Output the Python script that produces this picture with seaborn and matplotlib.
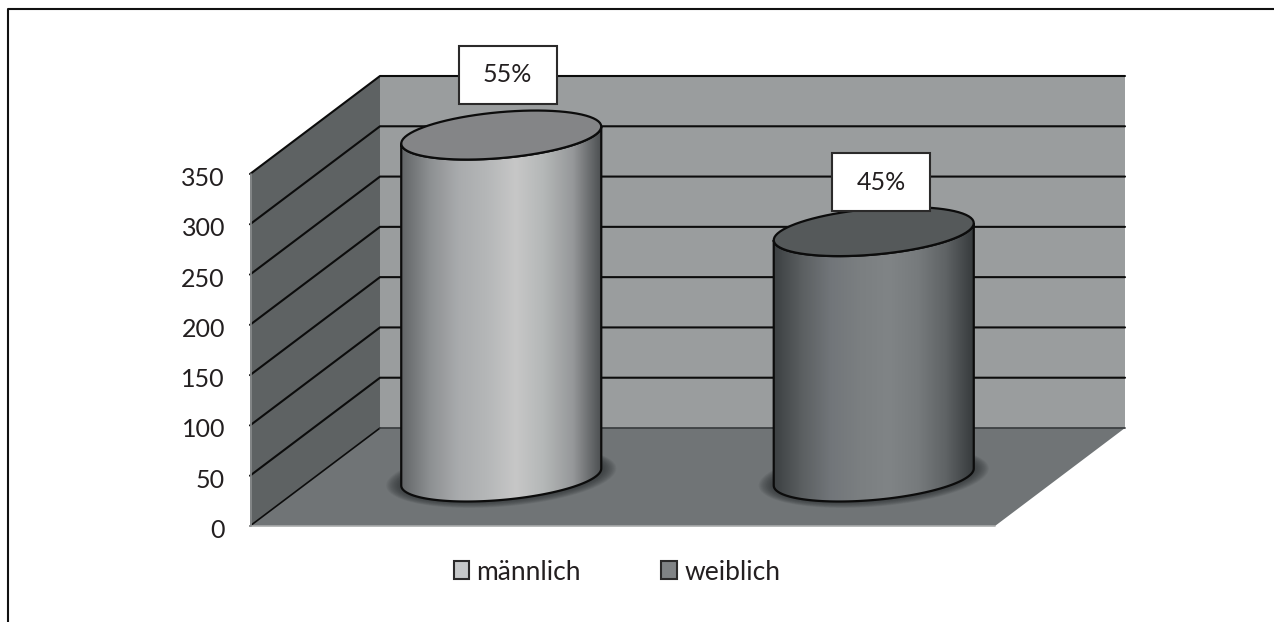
import numpy as np
import seaborn as sns
import matplotlib.pyplot as plt
from matplotlib.colors import LinearSegmentedColormap
from matplotlib.lines import Line2D
from matplotlib.patches import Patch, Polygon, Rectangle
from matplotlib.transforms import Affine2D, IdentityTransform

categories = ['männlich', 'weiblich']
values = [340, 244]
shares = ['55%', '45%']
y_ticks = [0, 50, 100, 150, 200, 250, 300, 350]

legend_colors = ['#c6c8c9', '#808385']
top_colors = ['#848587', '#55595a']
body_stops = [
    ['#626567', '#8d9092', '#a9abad', '#b5b7b8', '#c7c7c7', '#b4b7b7', '#96989a', '#4b4e50'],
    ['#3c4042', '#5c6062', '#72767a', '#7b7f81', '#808486', '#777b7d', '#5f6365', '#35393b'],
]

W, H = 1274, 622
DEPTH_X, DEPTH_Y = 130, 98  # oblique depth of the fake 3d box, pixels
TILT = 8.5 / 100
MINOR = 23
BOX_W, BOX_H = 98, 58
box_shift = [(6.5, 60.5), (7.5, 49.5)]
TEXT = '#231f20'

sns.set_theme(style='white')
plt.rcParams['font.family'] = ['Lato', 'DejaVu Sans']

fig = plt.figure(figsize=(W / 100, H / 100), dpi=100, facecolor='white')
ax = fig.add_axes([250 / W, (H - 526) / H, 745 / W, 352 / H])

sns.barplot(x=categories, y=values, hue=categories, palette=legend_colors, legend=False,
            width=0.537, saturation=1, ax=ax, zorder=4)
bars = list(ax.patches)
ax.set_xlim(-0.5, 1.5)
ax.set_ylim(0, 350)
ax.set_autoscale_on(False)
ax.patch.set_visible(False)
sns.despine(ax=ax, left=True, bottom=True)
ax.set_xlabel('')
ax.set_xticks([])
ax.set_xlim(-0.5, 1.5)
ax.set_yticks(y_ticks)
ax.tick_params(axis='y', length=0, pad=18, labelsize=18, labelcolor=TEXT)
for label in ax.get_yticklabels():
    label.set_transform(label.get_transform() + Affine2D().translate(0, -2.5))


def to_px(x, y, depth=0.0):
    px, py = ax.transData.transform((x, y))
    return px + DEPTH_X * depth, py + DEPTH_Y * depth


def add_poly(points, zorder, **kw):
    poly = Polygon(points, closed=True, transform=IdentityTransform(), clip_on=False, zorder=zorder, **kw)
    ax.add_patch(poly)
    return poly


def px_line(xs, ys, zorder, color='#0c0c0c', lw=1.5):
    ax.add_line(Line2D(xs, ys, transform=IdentityTransform(), color=color, lw=lw, clip_on=False, zorder=zorder))


def arc(cx, cy, a, t0, t1):
    t = np.linspace(t0, t1, 80)
    return np.column_stack([cx + a * np.cos(t), cy + MINOR * np.sin(t) + TILT * a * np.cos(t)])


# box: back wall, left wall, floor
add_poly([to_px(-0.5, 0, 1), to_px(1.5, 0, 1), to_px(1.5, 350, 1), to_px(-0.5, 350, 1)], 1, fc='#9a9d9e', ec='none')
add_poly([to_px(-0.5, 0, 0), to_px(-0.5, 0, 1), to_px(-0.5, 350, 1), to_px(-0.5, 350, 0)], 1, fc='#5e6263', ec='none')
add_poly([to_px(-0.5, 0, 0), to_px(1.5, 0, 0), to_px(1.5, 0, 1), to_px(-0.5, 0, 1)], 1, fc='#707476', ec='none')

for tick in y_ticks:
    if tick == 0:
        continue
    p0, p1, p2 = to_px(-0.5, tick, 0), to_px(-0.5, tick, 1), to_px(1.5, tick, 1)
    px_line([p0[0], p1[0], p2[0]], [p0[1], p1[1], p2[1]], 2)
p0, p1, p2 = to_px(-0.5, 0, 0), to_px(-0.5, 0, 1), to_px(1.5, 0, 1)
px_line([p0[0], p1[0]], [p0[1], p1[1]], 2, lw=1.2)
px_line([p1[0], p2[0]], [p1[1], p2[1]], 2, color='#3d4143', lw=1.3)
p0, p1 = to_px(-0.5, 0, 0), to_px(1.5, 0, 0)
px_line([p0[0], p1[0]], [p0[1], p1[1]], 2, color='#a9abab', lw=1.2)
p0, p1 = to_px(-0.5, 0, 0), to_px(-0.5, 350, 0)
px_line([p0[0] + 0.5, p1[0] + 0.5], [p0[1], p1[1]], 2, color='#8a8d8e', lw=1.2)

# cylinders, placed from the bars seaborn drew
shift = Affine2D().translate(DEPTH_X / 2, DEPTH_Y / 2)
for i, bar in enumerate(bars):
    bar.set_transform(ax.transData + shift)
    bar.set_edgecolor('none')
    left, base = to_px(bar.get_x(), 0, 0.5)
    right, top = to_px(bar.get_x() + bar.get_width(), bar.get_height(), 0.5)
    cx, a = (left + right) / 2, (right - left) / 2

    # soft shadow on the floor
    for grow in np.linspace(15, 0, 14):
        t = np.linspace(0, 2 * np.pi, 100)
        ring = np.column_stack([cx + (a + grow) * np.cos(t),
                                base + (MINOR + grow * 0.45) * np.sin(t) + TILT * a * np.cos(t)])
        add_poly(ring, 3, fc='#2e3234', ec='none', alpha=0.085)

    outline = np.vstack([arc(cx, base, a, np.pi, 2 * np.pi), arc(cx, top, a, 2 * np.pi, np.pi)])
    body = add_poly(outline, 5, fc='none', ec='none')
    bar.set_clip_box(fig.bbox)
    bar.set_clip_path(body)
    cmap = LinearSegmentedColormap.from_list(f'body{i}', body_stops[i])
    img = ax.imshow(np.linspace(0, 1, 256)[None, :], cmap=cmap, aspect='auto', zorder=5,
                    extent=[left, right, base - 60, top + 60], transform=IdentityTransform())
    img.set_clip_box(fig.bbox)
    img.set_clip_path(body)
    add_poly(outline, 6, fc='none', ec='#0c0c0c', lw=1.6)
    add_poly(arc(cx, top, a, 0, 2 * np.pi), 7, fc=top_colors[i], ec='#0c0c0c', lw=1.6)

    # percentage label box
    bx, by = cx + box_shift[i][0], top + box_shift[i][1]
    ax.add_patch(Rectangle((bx - BOX_W / 2, by - BOX_H / 2), BOX_W, BOX_H, transform=IdentityTransform(),
                           fc='white', ec='#2b2a2a', lw=1.5, clip_on=False, zorder=8))
    ax.text(bx, by, shares[i], transform=IdentityTransform(), ha='center', va='center',
            fontsize=18, color=TEXT, zorder=9)

handles = [Patch(fc=c, ec='#2b2a2a', lw=1.5) for c in legend_colors]
ax.legend(handles, categories, ncol=2, frameon=False, loc='center', fontsize=19,
          bbox_to_anchor=(617 / W, (H - 572) / H), bbox_transform=fig.transFigure,
          handlelength=0.6, handleheight=0.65, handletextpad=0.27, columnspacing=3.05, labelcolor=TEXT)

# outer chart frame, only top and left edges show
fig.add_artist(Line2D([8 / W, 8 / W, 1], [0, (H - 9.3) / H, (H - 9.3) / H],
                      transform=fig.transFigure, color='#111111', lw=1.5))

fig.savefig('out.png', dpi=100)
